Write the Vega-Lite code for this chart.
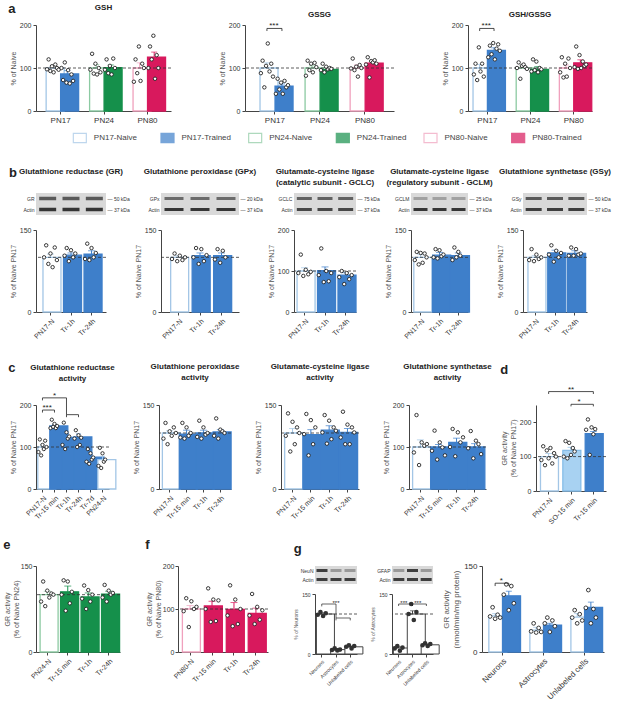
{
"$schema":"https://vega.github.io/schema/vega-lite/v6.json",
"background":"#ffffff",
"padding":{"left":3,"top":3,"right":0,"bottom":0},
"config":{
 "font":"Liberation Sans",
 "view":{"stroke":null},
 "axis":{"labelFontSize":7,"titleFontSize":7,"titleFontWeight":"normal","titleColor":"#555555","labelColor":"#333333","domainColor":"#444444","tickColor":"#444444","tickSize":3,"labelPadding":2,"titlePadding":3,"grid":false,"domain":true,"ticks":true},
 "title":{"fontSize":8,"fontWeight":"bold","color":"#222222"},
 "concat":{"spacing":20}
},
"datasets":{"d":[
{"p":"gsh","g":"PN17-Naive","grp":"PN17-Naive","m":100,"hi":106,"pts":[97,120,93,104,90,108,100,96]},
{"p":"gsh","g":"PN17-Trained","grp":"PN17-Trained","m":86,"hi":94,"pts":[100,72,113,66,95,64,85,70]},
{"p":"gsh","g":"PN24-Naive","grp":"PN24-Naive","m":100,"hi":108,"pts":[96,133,87,110,85,100,90]},
{"p":"gsh","g":"PN24-Trained","grp":"PN24-Trained","m":101,"hi":107,"pts":[96,120,88,105,85,122,100]},
{"p":"gsh","g":"PN80-Naive","grp":"PN80-Naive","m":100,"hi":112,"pts":[68,120,88,150,70,110,100]},
{"p":"gsh","g":"PN80-Trained","grp":"PN80-Trained","m":125,"hi":137,"pts":[100,150,120,175,75,130,100]},
{"p":"gssg","g":"PN17-Naive","grp":"PN17-Naive","m":100,"hi":112,"pts":[88,117,55,105,157,92,110,80]},
{"p":"gssg","g":"PN17-Trained","grp":"PN17-Trained","m":58,"hi":63,"pts":[40,75,50,66,40,70,55,60]},
{"p":"gssg","g":"PN24-Naive","grp":"PN24-Naive","m":100,"hi":105,"pts":[82,117,95,110,90,112,102]},
{"p":"gssg","g":"PN24-Trained","grp":"PN24-Trained","m":97,"hi":101,"pts":[95,110,90,103,97,100,98]},
{"p":"gssg","g":"PN80-Naive","grp":"PN80-Naive","m":100,"hi":107,"pts":[99,122,95,103,80,107,100]},
{"p":"gssg","g":"PN80-Trained","grp":"PN80-Trained","m":111,"hi":116,"pts":[108,125,78,116,113,118,110]},
{"p":"gssg","s":"***","sx":"PN17-Naive","sx2":"PN17-Trained","sy":192,"sy2":186,"sy3":186,"tb":"PN17-Naive"},
{"p":"ratio","g":"PN17-Naive","grp":"PN17-Naive","m":100,"hi":108,"pts":[85,110,72,148,92,110,80]},
{"p":"ratio","g":"PN17-Trained","grp":"PN17-Trained","m":141,"hi":147,"pts":[125,152,132,158,120,145,155,140]},
{"p":"ratio","g":"PN24-Naive","grp":"PN24-Naive","m":100,"hi":105,"pts":[100,113,75,105,108,102,98]},
{"p":"ratio","g":"PN24-Trained","grp":"PN24-Trained","m":97,"hi":103,"pts":[92,120,95,115,90,100,97]},
{"p":"ratio","g":"PN80-Naive","grp":"PN80-Naive","m":100,"hi":107,"pts":[90,125,78,110,80,122,100]},
{"p":"ratio","g":"PN80-Trained","grp":"PN80-Trained","m":112,"hi":119,"pts":[102,150,98,130,100,115,105,108]},
{"p":"ratio","s":"***","sx":"PN17-Naive","sx2":"PN17-Trained","sy":192,"sy2":186,"sy3":186,"tb":"PN17-Naive"},
{"p":"legA","grp":"PN17-Naive"},{"p":"legA","grp":"PN17-Trained"},{"p":"legA","grp":"PN24-Naive"},
{"p":"legA","grp":"PN24-Trained"},{"p":"legA","grp":"PN80-Naive"},{"p":"legA","grp":"PN80-Trained"},
{"p":"legG","grp":"PN17-Naive"},{"p":"legG","grp":"PN17-Trained"},
{"p":"bGR","prot":"GR","w":0.7,"ln":[1,2,3]},{"p":"bGR","prot":"Actin","w":0.9,"ln":[1,2,3]},
{"p":"bGPx","prot":"GPx","w":0.6,"ln":[1,2,3]},{"p":"bGPx","prot":"Actin","w":0.9,"ln":[1,2,3]},
{"p":"bGCLC","prot":"GCLC","w":0.65,"ln":[1,2,3]},{"p":"bGCLC","prot":"Actin","w":0.8,"ln":[1,2,3]},
{"p":"bGCLM","prot":"GCLM","w":0.3,"ln":[1,2,3]},{"p":"bGCLM","prot":"Actin","w":0.9,"ln":[1,2,3]},
{"p":"bGSy","prot":"GSy","w":0.7,"ln":[1,2,3]},{"p":"bGSy","prot":"Actin","w":0.85,"ln":[1,2,3]},
{"p":"bNeuN","prot":"NeuN","w":0.85,"ln":[1]},{"p":"bNeuN","prot":"NeuN","w":0.35,"ln":[2,3]},{"p":"bNeuN","prot":"Actin","w":0.85,"ln":[1,2,3]},
{"p":"bGFAP","prot":"GFAP","w":0.35,"ln":[1,3]},{"p":"bGFAP","prot":"GFAP","w":0.85,"ln":[2]},{"p":"bGFAP","prot":"Actin","w":0.85,"ln":[1,2,3]},
{"p":"GRb","g":"PN17-N","grp":"PN17-Naive","m":100,"hi":106,"pts":[100,122,88,107,82,118,95]},
{"p":"GRb","g":"Tr-1h","grp":"PN17-Trained","m":104,"hi":108,"pts":[103,117,93,113,100,107]},
{"p":"GRb","g":"Tr-24h","grp":"PN17-Trained","m":106,"hi":112,"pts":[97,125,95,117,100,108]},
{"p":"GPb","g":"PN17-N","grp":"PN17-Naive","m":100,"hi":103,"pts":[97,107,93,103,95,100]},
{"p":"GPb","g":"Tr-1h","grp":"PN17-Trained","m":103,"hi":108,"pts":[100,117,88,115,93,104]},
{"p":"GPb","g":"Tr-24h","grp":"PN17-Trained","m":103,"hi":108,"pts":[96,115,90,112,100]},
{"p":"GCLCb","g":"PN17-N","grp":"PN17-Naive","m":100,"hi":108,"pts":[95,140,88,103,92,98]},
{"p":"GCLCb","g":"Tr-1h","grp":"PN17-Trained","m":101,"hi":110,"pts":[90,155,73,100,75,95]},
{"p":"GCLCb","g":"Tr-24h","grp":"PN17-Trained","m":90,"hi":96,"pts":[85,100,68,95,80,90]},
{"p":"GCLMb","g":"PN17-N","grp":"PN17-Naive","m":100,"hi":105,"pts":[95,110,87,108,90,107,100]},
{"p":"GCLMb","g":"Tr-1h","grp":"PN17-Trained","m":104,"hi":109,"pts":[100,115,98,113,102,105]},
{"p":"GCLMb","g":"Tr-24h","grp":"PN17-Trained","m":103,"hi":108,"pts":[95,118,100,110,103]},
{"p":"GSyb","g":"PN17-N","grp":"PN17-Naive","m":100,"hi":103,"pts":[95,115,93,105,97,100]},
{"p":"GSyb","g":"Tr-1h","grp":"PN17-Trained","m":108,"hi":113,"pts":[105,122,92,112,100,108]},
{"p":"GSyb","g":"Tr-24h","grp":"PN17-Trained","m":107,"hi":112,"pts":[103,118,103,115,105,107]},
{"p":"GRa","g":"PN17-N","grp":"PN17-Naive","m":100,"hi":106,"pts":[88,118,80,105,95,115,100]},
{"p":"GRa","g":"Tr-15 min","grp":"PN17-Trained","m":150,"hi":154,"pts":[145,165,148,155,145,150]},
{"p":"GRa","g":"Tr-1h","grp":"PN17-Trained","m":123,"hi":132,"pts":[105,158,95,135,120,125]},
{"p":"GRa","g":"Tr-24h","grp":"PN17-Trained","m":124,"hi":131,"pts":[120,140,100,128,105,122]},
{"p":"GRa","g":"Tr-7d","grp":"PN17-Trained","m":76,"hi":82,"pts":[65,95,60,85,70,75]},
{"p":"GRa","g":"PN24-N","grp":"PN17-Naive","m":70,"hi":78,"pts":[55,98,50,85,65,70]},
{"p":"GRa","s":"***","sx":"PN17-N","sx2":"Tr-15 min","sy":188,"sy2":182,"sy3":182,"tb":"PN17-N"},
{"p":"GRa","s":"*","sx":"PN17-N","sx2":"Tr-1h","sy":217,"sy2":211,"sy3":177,"tc":"Tr-15 min"},
{"p":"GRa","s":"","sx":"Tr-1h","sx2":"Tr-24h","sy":177,"sy2":171,"sy3":171},
{"p":"GPa","g":"PN17-N","grp":"PN17-Naive","m":100,"hi":104,"pts":[90,118,80,103,95,110,100]},
{"p":"GPa","g":"Tr-15 min","grp":"PN17-Trained","m":98,"hi":105,"pts":[92,118,90,110,95,100]},
{"p":"GPa","g":"Tr-1h","grp":"PN17-Trained","m":100,"hi":105,"pts":[93,122,90,110,97,100]},
{"p":"GPa","g":"Tr-24h","grp":"PN17-Trained","m":102,"hi":106,"pts":[95,126,90,106,103,100]},
{"p":"GCa","g":"PN17-N","grp":"PN17-Naive","m":100,"hi":108,"pts":[95,135,67,120,80,110,100]},
{"p":"GCa","g":"Tr-15 min","grp":"PN17-Trained","m":97,"hi":106,"pts":[98,134,60,123,80,110]},
{"p":"GCa","g":"Tr-1h","grp":"PN17-Trained","m":105,"hi":113,"pts":[101,132,81,122,89,110,104]},
{"p":"GCa","g":"Tr-24h","grp":"PN17-Trained","m":101,"hi":108,"pts":[92,138,80,115,80,110,101]},
{"p":"GSa","g":"PN17-N","grp":"PN17-Naive","m":100,"hi":117,"pts":[87,176,57,111,103,107]},
{"p":"GSa","g":"Tr-15 min","grp":"PN17-Trained","m":100,"hi":106,"pts":[91,139,70,111,99,80]},
{"p":"GSa","g":"Tr-1h","grp":"PN17-Trained","m":111,"hi":121,"pts":[100,143,78,135,111,123]},
{"p":"GSa","g":"Tr-24h","grp":"PN17-Trained","m":100,"hi":108,"pts":[97,138,73,115,107,83]},
{"p":"GRd","g":"PN17-N","grp":"PN17-Naive","m":100,"hi":109,"pts":[90,130,75,118,95,125,80,110,100]},
{"p":"GRd","g":"SO-15 min","grp":"PN17-SO","m":118,"hi":127,"pts":[100,145,95,140,105,125,115]},
{"p":"GRd","g":"Tr-15 min","grp":"PN17-Trained","m":167,"hi":173,"pts":[178,208,105,185,165,180]},
{"p":"GRd","s":"**","sx":"PN17-N","sx2":"Tr-15 min","sy":289,"sy2":282,"sy3":282,"tc":"SO-15 min"},
{"p":"GRd","s":"*","sx":"SO-15 min","sx2":"Tr-15 min","sy":252,"sy2":246,"sy3":246,"tb":"SO-15 min"},
{"p":"GRe","g":"PN24-N","grp":"PN24-Naive","m":100,"hi":106,"pts":[88,123,80,107,95,102,100]},
{"p":"GRe","g":"Tr-15 min","grp":"PN24-Trained","m":105,"hi":115,"pts":[100,125,72,123,85,105]},
{"p":"GRe","g":"Tr-1h","grp":"PN24-Trained","m":96,"hi":103,"pts":[93,116,75,108,88,100]},
{"p":"GRe","g":"Tr-24h","grp":"PN24-Trained","m":101,"hi":106,"pts":[95,117,88,107,100,103]},
{"p":"GRf","g":"PN80-N","grp":"PN80-Naive","m":100,"hi":108,"pts":[95,125,58,118,100,105]},
{"p":"GRf","g":"Tr-15 min","grp":"PN80-Trained","m":107,"hi":118,"pts":[100,148,70,122,72,120]},
{"p":"GRf","g":"Tr-1h","grp":"PN80-Trained","m":99,"hi":115,"pts":[85,155,60,122,65,100]},
{"p":"GRf","g":"Tr-24h","grp":"PN80-Trained","m":90,"hi":102,"pts":[85,135,65,105,75,97]},
{"p":"gNe","g":"Neurons","grp":"Cell","m":100,"hi":103,"pts":[98,105,95,102]},
{"p":"gNe","g":"Astrocytes","grp":"Cell","m":11,"hi":13,"pts":[10,14,9,11]},
{"p":"gNe","g":"Unlabeled cells","grp":"Cell","m":18,"hi":20,"pts":[18,22,14,20]},
{"p":"gNe","s":"***","sx":"Neurons","sx2":"Astrocytes","sy":125,"sy2":119,"sy3":90,"tc":"Astrocytes"},
{"p":"gNe","s":"","sx":"Astrocytes","sx2":"Unlabeled cells","sy":90,"sy2":84,"sy3":84},
{"p":"gAs","g":"Neurons","grp":"Cell","m":15,"hi":18,"pts":[14,20,8,16]},
{"p":"gAs","g":"Astrocytes","grp":"Cell","m":100,"hi":108,"pts":[100,125,85,105]},
{"p":"gAs","g":"Unlabeled cells","grp":"Cell","m":23,"hi":25,"pts":[22,27,20,25]},
{"p":"gAs","s":"***","sx":"Neurons","sx2":"Astrocytes","sy":125,"sy2":120,"sy3":120,"tb":"Neurons"},
{"p":"gAs","s":"***","sx":"Astrocytes","sx2":"Unlabeled cells","sy":125,"sy2":120,"sy3":120,"tb":"Astrocytes"},
{"p":"gBig","g":"Neurons|N","grp":"PN17-Naive","m":63,"hi":67,"pts":[62,78,58,65,60]},
{"p":"gBig","g":"Neurons|T","grp":"PN17-Trained","m":98,"hi":106,"pts":[100,118,73,115,85]},
{"p":"gBig","g":"Astrocytes|N","grp":"PN17-Naive","m":38,"hi":43,"pts":[36,50,34,42,35]},
{"p":"gBig","g":"Astrocytes|T","grp":"PN17-Trained","m":47,"hi":50,"pts":[50,60,35,55,45]},
{"p":"gBig","g":"Unlabeled cells|N","grp":"PN17-Naive","m":61,"hi":67,"pts":[60,73,50,66,55]},
{"p":"gBig","g":"Unlabeled cells|T","grp":"PN17-Trained","m":78,"hi":87,"pts":[77,108,50,75,60]},
{"p":"gBig","s":"*","sx":"Neurons|N","sx2":"Neurons|T","sy":120,"sy2":115,"sy3":115,"tb":"Neurons|N"}
]},
"resolve":{"scale":{"xOffset":"independent"}},
"spacing":22,
"vconcat":[
{"spacing":7,"resolve":{"scale":{"xOffset":"independent"}},"vconcat":[
 {"title":{"text":"a","anchor":"start","fontSize":13,"dx":-1,"dy":12,"offset":0},
  "bounds":"flush","spacing":74,"resolve":{"scale":{"xOffset":"independent"}},
  "hconcat":[
  {"title":{"text":"GSH","offset":9},"width":135,"height":86,"data":{"name":"d"},"transform":[{"filter":{"field":"p","equal":"gsh"}}],
   "layer":[
    {"transform":[{"filter":"isValid(datum.m)"}],"mark":{"type":"bar","strokeWidth":1.3},"encoding":{
      "x":{"field":"g","type":"nominal","title":null,"scale":{"domain":["PN17-Naive","PN17-Trained","s1","PN24-Naive","PN24-Trained","s2","PN80-Naive","PN80-Trained"],"paddingInner":0.08,"paddingOuter":0.7},"axis":{"title":null,"labelAngle":0,"labelFontSize":8,"labelOverlap":false,"labelExpr":"indexof(datum.value,'Naive')>0 ? slice(datum.value,0,4) : ''","tickOffset":7.3,"tickOpacity":{"condition":{"test":"indexof(datum.value,'Naive')>0","value":1},"value":0}}},
      "y":{"field":"m","type":"quantitative","scale":{"domain":[0,200],"nice":false},"axis":{"title":"% of Naive","values":[0,50,100,150,200]}},
      "fill":{"field":"grp","legend":null,"scale":{"domain":["PN17-Naive","PN17-Trained","PN24-Naive","PN24-Trained","PN80-Naive","PN80-Trained","PN17-SO","Cell"],"range":["#ffffff","#3e7fca","#ffffff","#15904b","#ffffff","#d8195d","#a8d2f2","#ffffff"]}},
      "stroke":{"field":"grp","legend":null,"scale":{"domain":["PN17-Naive","PN17-Trained","PN24-Naive","PN24-Trained","PN80-Naive","PN80-Trained","PN17-SO","Cell"],"range":["#a3c6e6","#3e7fca","#8ccaa2","#15904b","#f0a1bd","#d8195d","#86bde8","#444444"]}}}},
    {"transform":[{"filter":"isValid(datum.m)"}],"mark":{"type":"rule","strokeWidth":1},"encoding":{"x":{"field":"g","type":"nominal","title":null},"y":{"field":"m","type":"quantitative"},"y2":{"field":"hi"},"stroke":{"field":"grp","legend":null}}},
    {"transform":[{"filter":"isValid(datum.m)"}],"mark":{"type":"tick","thickness":1,"size":6},"encoding":{"x":{"field":"g","type":"nominal","title":null},"y":{"field":"hi","type":"quantitative"},"color":{"field":"grp","legend":null,"scale":{"domain":["PN17-Naive","PN17-Trained","PN24-Naive","PN24-Trained","PN80-Naive","PN80-Trained","PN17-SO","Cell"],"range":["#a3c6e6","#3e7fca","#8ccaa2","#15904b","#f0a1bd","#d8195d","#86bde8","#444444"]}}}},
    {"data":{"values":[{}]},"mark":{"type":"rule","stroke":"#333333","strokeWidth":0.8,"strokeDash":[3,2]},"encoding":{"y":{"datum":100}}},
    {"transform":[{"filter":"isValid(datum.pts)"},{"flatten":["pts"],"as":["v"]},{"window":[{"op":"row_number","as":"r"}],"groupby":["g"]}],"mark":{"type":"point","filled":true,"fill":"#ffffff","stroke":"#222222","strokeWidth":0.9,"size":12,"opacity":1},"encoding":{"x":{"field":"g","type":"nominal","title":null},"xOffset":{"field":"r","type":"ordinal","scale":{"paddingOuter":0.5}},"y":{"field":"v","type":"quantitative"}}}
   ]},
  {"title":{"text":"GSSG","offset":2},"width":149,"height":86,"data":{"name":"d"},"transform":[{"filter":{"field":"p","equal":"gssg"}}],
   "layer":[
    {"transform":[{"filter":"isValid(datum.m)"}],"mark":{"type":"bar","strokeWidth":1.3},"encoding":{
      "x":{"field":"g","type":"nominal","title":null,"scale":{"domain":["PN17-Naive","PN17-Trained","s1","PN24-Naive","PN24-Trained","s2","PN80-Naive","PN80-Trained"],"paddingInner":0.08,"paddingOuter":1.1},"axis":{"title":null,"labelAngle":0,"labelFontSize":8,"labelOverlap":false,"labelExpr":"indexof(datum.value,'Naive')>0 ? slice(datum.value,0,4) : ''","tickOffset":7.4,"tickOpacity":{"condition":{"test":"indexof(datum.value,'Naive')>0","value":1},"value":0}}},
      "y":{"field":"m","type":"quantitative","scale":{"domain":[0,200],"nice":false},"axis":{"title":"% of Naive","values":[0,50,100,150,200]}},
      "fill":{"field":"grp","legend":null},"stroke":{"field":"grp","legend":null}}},
    {"transform":[{"filter":"isValid(datum.m)"}],"mark":{"type":"rule","strokeWidth":1},"encoding":{"x":{"field":"g","type":"nominal","title":null},"y":{"field":"m","type":"quantitative"},"y2":{"field":"hi"},"stroke":{"field":"grp","legend":null}}},
    {"transform":[{"filter":"isValid(datum.m)"}],"mark":{"type":"tick","thickness":1,"size":6},"encoding":{"x":{"field":"g","type":"nominal","title":null},"y":{"field":"hi","type":"quantitative"},"color":{"field":"grp","legend":null}}},
    {"data":{"values":[{}]},"mark":{"type":"rule","stroke":"#333333","strokeWidth":0.8,"strokeDash":[3,2]},"encoding":{"y":{"datum":100}}},
    {"transform":[{"filter":"isValid(datum.pts)"},{"flatten":["pts"],"as":["v"]},{"window":[{"op":"row_number","as":"r"}],"groupby":["g"]}],"mark":{"type":"point","filled":true,"fill":"#ffffff","stroke":"#222222","strokeWidth":0.9,"size":12,"opacity":1},"encoding":{"x":{"field":"g","type":"nominal","title":null},"xOffset":{"field":"r","type":"ordinal","scale":{"paddingOuter":0.5}},"y":{"field":"v","type":"quantitative"}}},
    {"transform":[{"filter":"isValid(datum.s)"}],"mark":{"type":"rule","stroke":"#222222","strokeWidth":0.8},"encoding":{"x":{"field":"sx","type":"nominal","title":null},"x2":{"field":"sx2"},"y":{"field":"sy","type":"quantitative"}}},
    {"transform":[{"filter":"isValid(datum.s)"}],"mark":{"type":"rule","stroke":"#222222","strokeWidth":0.8},"encoding":{"x":{"field":"sx","type":"nominal","title":null},"y":{"field":"sy","type":"quantitative"},"y2":{"field":"sy2"}}},
    {"transform":[{"filter":"isValid(datum.s)"}],"mark":{"type":"rule","stroke":"#222222","strokeWidth":0.8},"encoding":{"x":{"field":"sx2","type":"nominal","title":null},"y":{"field":"sy","type":"quantitative"},"y2":{"field":"sy3"}}},
    {"transform":[{"filter":"isValid(datum.tb)"}],"mark":{"type":"text","fontSize":8,"baseline":"bottom","dy":2,"color":"#222222"},"encoding":{"x":{"field":"tb","type":"nominal","title":null,"bandPosition":1},"y":{"field":"sy","type":"quantitative"},"text":{"field":"s"}}}
   ]},
  {"title":{"text":"GSH/GSSG","offset":2},"width":124,"height":86,"data":{"name":"d"},"transform":[{"filter":{"field":"p","equal":"ratio"}}],
   "layer":[
    {"transform":[{"filter":"isValid(datum.m)"}],"mark":{"type":"bar","strokeWidth":1.3},"encoding":{
      "x":{"field":"g","type":"nominal","title":null,"scale":{"domain":["PN17-Naive","PN17-Trained","s1","PN24-Naive","PN24-Trained","s2","PN80-Naive","PN80-Trained"],"paddingInner":0.08,"paddingOuter":0.35},"axis":{"title":null,"labelAngle":0,"labelFontSize":8,"labelOverlap":false,"labelExpr":"indexof(datum.value,'Naive')>0 ? slice(datum.value,0,4) : ''","tickOffset":7.2,"tickOpacity":{"condition":{"test":"indexof(datum.value,'Naive')>0","value":1},"value":0}}},
      "y":{"field":"m","type":"quantitative","scale":{"domain":[0,200],"nice":false},"axis":{"title":"% of Naive","values":[0,50,100,150,200]}},
      "fill":{"field":"grp","legend":null},"stroke":{"field":"grp","legend":null}}},
    {"transform":[{"filter":"isValid(datum.m)"}],"mark":{"type":"rule","strokeWidth":1},"encoding":{"x":{"field":"g","type":"nominal","title":null},"y":{"field":"m","type":"quantitative"},"y2":{"field":"hi"},"stroke":{"field":"grp","legend":null}}},
    {"transform":[{"filter":"isValid(datum.m)"}],"mark":{"type":"tick","thickness":1,"size":6},"encoding":{"x":{"field":"g","type":"nominal","title":null},"y":{"field":"hi","type":"quantitative"},"color":{"field":"grp","legend":null}}},
    {"data":{"values":[{}]},"mark":{"type":"rule","stroke":"#333333","strokeWidth":0.8,"strokeDash":[3,2]},"encoding":{"y":{"datum":100}}},
    {"transform":[{"filter":"isValid(datum.pts)"},{"flatten":["pts"],"as":["v"]},{"window":[{"op":"row_number","as":"r"}],"groupby":["g"]}],"mark":{"type":"point","filled":true,"fill":"#ffffff","stroke":"#222222","strokeWidth":0.9,"size":12,"opacity":1},"encoding":{"x":{"field":"g","type":"nominal","title":null},"xOffset":{"field":"r","type":"ordinal","scale":{"paddingOuter":0.5}},"y":{"field":"v","type":"quantitative"}}},
    {"transform":[{"filter":"isValid(datum.s)"}],"mark":{"type":"rule","stroke":"#222222","strokeWidth":0.8},"encoding":{"x":{"field":"sx","type":"nominal","title":null},"x2":{"field":"sx2"},"y":{"field":"sy","type":"quantitative"}}},
    {"transform":[{"filter":"isValid(datum.s)"}],"mark":{"type":"rule","stroke":"#222222","strokeWidth":0.8},"encoding":{"x":{"field":"sx","type":"nominal","title":null},"y":{"field":"sy","type":"quantitative"},"y2":{"field":"sy2"}}},
    {"transform":[{"filter":"isValid(datum.s)"}],"mark":{"type":"rule","stroke":"#222222","strokeWidth":0.8},"encoding":{"x":{"field":"sx2","type":"nominal","title":null},"y":{"field":"sy","type":"quantitative"},"y2":{"field":"sy3"}}},
    {"transform":[{"filter":"isValid(datum.tb)"}],"mark":{"type":"text","fontSize":8,"baseline":"bottom","dy":2,"color":"#222222"},"encoding":{"x":{"field":"tb","type":"nominal","title":null,"bandPosition":1},"y":{"field":"sy","type":"quantitative"},"text":{"field":"s"}}}
   ]}
  ]},
 {"width":580,"height":12,"data":{"name":"d"},"transform":[{"filter":{"field":"p","equal":"legA"}}],
  "layer":[
   {"mark":{"type":"point","shape":"M-1,-0.7H1V0.7H-1Z","filled":true,"size":169,"strokeWidth":1.2},"encoding":{"x":{"field":"grp","type":"nominal","sort":null,"axis":null,"scale":{"range":[0,526],"paddingInner":0,"paddingOuter":0}},"fill":{"field":"grp","legend":null},"stroke":{"field":"grp","legend":null}}},
   {"mark":{"type":"text","align":"left","dx":14,"fontSize":8,"color":"#444444"},"encoding":{"x":{"field":"grp","type":"nominal","sort":null,"axis":null},"text":{"field":"grp"}}}
  ]}
]},
{"spacing":11,"resolve":{"scale":{"xOffset":"independent"}},"vconcat":[
 {"title":{"text":"b","anchor":"start","fontSize":13,"dx":-10,"dy":12,"offset":0},"bounds":"flush","spacing":55,
  "hconcat":[
   {"title":{"text":"Glutathione reductase (GR)","offset":17},"width":70,"height":22,"view":{"fill":"#d9d9d9","stroke":null},"data":{"name":"d"},"transform":[{"filter":{"field":"p","equal":"bGR"}},{"flatten":["ln"]}],
    "layer":[
     {"mark":{"type":"tick","orient":"horizontal","thickness":3.5,"size":17,"color":"#222222"},"encoding":{"x":{"field":"ln","type":"ordinal","axis":null},"y":{"field":"prot","type":"nominal","sort":null,"axis":{"title":null,"domain":false,"ticks":false,"labelFontSize":5,"labelPadding":2}},"opacity":{"field":"w","type":"quantitative","legend":null,"scale":{"domain":[0,1],"range":[0,1]}}}},
     {"mark":{"type":"tick","opacity":0},"encoding":{"y":{"field":"prot","type":"nominal","sort":null,"axis":{"orient":"right","title":null,"domain":false,"ticks":false,"labelFontSize":5,"labelPadding":1,"labelExpr":"datum.value=='Actin' ? '— 37 kDa' : '— 50 kDa'"}}}}
    ],"resolve":{"axis":{"y":"independent"}}},
   {"title":{"text":"Glutathione peroxidase (GPx)","offset":17},"width":78,"height":22,"view":{"fill":"#d9d9d9","stroke":null},"data":{"name":"d"},"transform":[{"filter":{"field":"p","equal":"bGPx"}},{"flatten":["ln"]}],
    "layer":[
     {"mark":{"type":"tick","orient":"horizontal","thickness":3,"size":19,"color":"#222222"},"encoding":{"x":{"field":"ln","type":"ordinal","axis":null},"y":{"field":"prot","type":"nominal","sort":null,"axis":{"title":null,"domain":false,"ticks":false,"labelFontSize":5,"labelPadding":2}},"opacity":{"field":"w","type":"quantitative","legend":null}}},
     {"mark":{"type":"tick","opacity":0},"encoding":{"y":{"field":"prot","type":"nominal","sort":null,"axis":{"orient":"right","title":null,"domain":false,"ticks":false,"labelFontSize":5,"labelPadding":1,"labelExpr":"datum.value=='Actin' ? '— 37 kDa' : '— 20 kDa'"}}}}
    ],"resolve":{"axis":{"y":"independent"}}},
   {"title":{"text":["Glutamate-cysteine ligase","(catalytic subunit - GCLC)"],"offset":6,"lineHeight":11},"width":62,"height":22,"view":{"fill":"#d9d9d9","stroke":null},"data":{"name":"d"},"transform":[{"filter":{"field":"p","equal":"bGCLC"}},{"flatten":["ln"]}],
    "layer":[
     {"mark":{"type":"tick","orient":"horizontal","thickness":3,"size":15,"color":"#222222"},"encoding":{"x":{"field":"ln","type":"ordinal","axis":null},"y":{"field":"prot","type":"nominal","sort":null,"axis":{"title":null,"domain":false,"ticks":false,"labelFontSize":5,"labelPadding":2}},"opacity":{"field":"w","type":"quantitative","legend":null}}},
     {"mark":{"type":"tick","opacity":0},"encoding":{"y":{"field":"prot","type":"nominal","sort":null,"axis":{"orient":"right","title":null,"domain":false,"ticks":false,"labelFontSize":5,"labelPadding":1,"labelExpr":"datum.value=='Actin' ? '— 37 kDa' : '— 75 kDa'"}}}}
    ],"resolve":{"axis":{"y":"independent"}}},
   {"title":{"text":["Glutamate-cysteine ligase","(regulatory subunit - GCLM)"],"offset":6,"lineHeight":11},"width":57,"height":22,"view":{"fill":"#d9d9d9","stroke":null},"data":{"name":"d"},"transform":[{"filter":{"field":"p","equal":"bGCLM"}},{"flatten":["ln"]}],
    "layer":[
     {"mark":{"type":"tick","orient":"horizontal","thickness":3,"size":14,"color":"#222222"},"encoding":{"x":{"field":"ln","type":"ordinal","axis":null},"y":{"field":"prot","type":"nominal","sort":null,"axis":{"title":null,"domain":false,"ticks":false,"labelFontSize":5,"labelPadding":2}},"opacity":{"field":"w","type":"quantitative","legend":null}}},
     {"mark":{"type":"tick","opacity":0},"encoding":{"y":{"field":"prot","type":"nominal","sort":null,"axis":{"orient":"right","title":null,"domain":false,"ticks":false,"labelFontSize":5,"labelPadding":1,"labelExpr":"datum.value=='Actin' ? '— 37 kDa' : '— 25 kDa'"}}}}
    ],"resolve":{"axis":{"y":"independent"}}},
   {"title":{"text":"Glutathione synthetase (GSy)","offset":17},"width":64,"height":22,"view":{"fill":"#d9d9d9","stroke":null},"data":{"name":"d"},"transform":[{"filter":{"field":"p","equal":"bGSy"}},{"flatten":["ln"]}],
    "layer":[
     {"mark":{"type":"tick","orient":"horizontal","thickness":3,"size":16,"color":"#222222"},"encoding":{"x":{"field":"ln","type":"ordinal","axis":null},"y":{"field":"prot","type":"nominal","sort":null,"axis":{"title":null,"domain":false,"ticks":false,"labelFontSize":5,"labelPadding":2}},"opacity":{"field":"w","type":"quantitative","legend":null}}},
     {"mark":{"type":"tick","opacity":0},"encoding":{"y":{"field":"prot","type":"nominal","sort":null,"axis":{"orient":"right","title":null,"domain":false,"ticks":false,"labelFontSize":5,"labelPadding":1,"labelExpr":"datum.value=='Actin' ? '— 37 kDa' : '— 50 kDa'"}}}}
    ],"resolve":{"axis":{"y":"independent"}}}
  ]},
 {"bounds":"flush","spacing":55,"resolve":{"scale":{"xOffset":"independent"}},
  "hconcat":[
   {"width":70,"height":82,"data":{"name":"d"},"transform":[{"filter":{"field":"p","equal":"GRb"}}],
    "layer":[
     {"transform":[{"filter":"isValid(datum.m)"}],"mark":{"type":"bar","strokeWidth":1.3},"encoding":{"x":{"field":"g","type":"nominal","title":null,"scale":{"domain":["PN17-N","Tr-1h","Tr-24h"],"paddingInner":0.27,"paddingOuter":0.34},"axis":{"title":null,"labelAngle":-45}},"y":{"field":"m","type":"quantitative","scale":{"domain":[0,150],"nice":false},"axis":{"title":"% of Naive PN17","values":[0,50,100,150]}},"fill":{"field":"grp","legend":null},"stroke":{"field":"grp","legend":null}}},
     {"transform":[{"filter":"isValid(datum.m)"}],"mark":{"type":"rule","strokeWidth":1},"encoding":{"x":{"field":"g","type":"nominal","title":null},"y":{"field":"m","type":"quantitative"},"y2":{"field":"hi"},"stroke":{"field":"grp","legend":null}}},
     {"transform":[{"filter":"isValid(datum.m)"}],"mark":{"type":"tick","thickness":1,"size":7},"encoding":{"x":{"field":"g","type":"nominal","title":null},"y":{"field":"hi","type":"quantitative"},"color":{"field":"grp","legend":null}}},
     {"data":{"values":[{}]},"mark":{"type":"rule","stroke":"#333333","strokeWidth":0.8,"strokeDash":[3,2]},"encoding":{"y":{"datum":100}}},
     {"transform":[{"filter":"isValid(datum.pts)"},{"flatten":["pts"],"as":["v"]},{"window":[{"op":"row_number","as":"r"}],"groupby":["g"]}],"mark":{"type":"point","filled":true,"fill":"#ffffff","stroke":"#222222","strokeWidth":0.9,"size":12,"opacity":1},"encoding":{"x":{"field":"g","type":"nominal","title":null},"xOffset":{"field":"r","type":"ordinal","scale":{"paddingOuter":0.5}},"y":{"field":"v","type":"quantitative"}}}
    ]},
   {"width":78,"height":82,"data":{"name":"d"},"transform":[{"filter":{"field":"p","equal":"GPb"}}],
    "layer":[
     {"transform":[{"filter":"isValid(datum.m)"}],"mark":{"type":"bar","strokeWidth":1.3},"encoding":{"x":{"field":"g","type":"nominal","title":null,"scale":{"domain":["PN17-N","Tr-1h","Tr-24h"],"paddingInner":0.27,"paddingOuter":0.45},"axis":{"title":null,"labelAngle":-45}},"y":{"field":"m","type":"quantitative","scale":{"domain":[0,150],"nice":false},"axis":{"title":"% of Naive PN17","values":[0,50,100,150]}},"fill":{"field":"grp","legend":null},"stroke":{"field":"grp","legend":null}}},
     {"transform":[{"filter":"isValid(datum.m)"}],"mark":{"type":"rule","strokeWidth":1},"encoding":{"x":{"field":"g","type":"nominal","title":null},"y":{"field":"m","type":"quantitative"},"y2":{"field":"hi"},"stroke":{"field":"grp","legend":null}}},
     {"transform":[{"filter":"isValid(datum.m)"}],"mark":{"type":"tick","thickness":1,"size":7},"encoding":{"x":{"field":"g","type":"nominal","title":null},"y":{"field":"hi","type":"quantitative"},"color":{"field":"grp","legend":null}}},
     {"data":{"values":[{}]},"mark":{"type":"rule","stroke":"#333333","strokeWidth":0.8,"strokeDash":[3,2]},"encoding":{"y":{"datum":100}}},
     {"transform":[{"filter":"isValid(datum.pts)"},{"flatten":["pts"],"as":["v"]},{"window":[{"op":"row_number","as":"r"}],"groupby":["g"]}],"mark":{"type":"point","filled":true,"fill":"#ffffff","stroke":"#222222","strokeWidth":0.9,"size":12,"opacity":1},"encoding":{"x":{"field":"g","type":"nominal","title":null},"xOffset":{"field":"r","type":"ordinal","scale":{"paddingOuter":0.5}},"y":{"field":"v","type":"quantitative"}}}
    ]},
   {"width":62,"height":82,"data":{"name":"d"},"transform":[{"filter":{"field":"p","equal":"GCLCb"}}],
    "layer":[
     {"transform":[{"filter":"isValid(datum.m)"}],"mark":{"type":"bar","strokeWidth":1.3},"encoding":{"x":{"field":"g","type":"nominal","title":null,"scale":{"domain":["PN17-N","Tr-1h","Tr-24h"],"paddingInner":0.27,"paddingOuter":0.15},"axis":{"title":null,"labelAngle":-45}},"y":{"field":"m","type":"quantitative","scale":{"domain":[0,200],"nice":false},"axis":{"title":"% of Naive PN17","values":[0,50,100,150,200]}},"fill":{"field":"grp","legend":null},"stroke":{"field":"grp","legend":null}}},
     {"transform":[{"filter":"isValid(datum.m)"}],"mark":{"type":"rule","strokeWidth":1},"encoding":{"x":{"field":"g","type":"nominal","title":null},"y":{"field":"m","type":"quantitative"},"y2":{"field":"hi"},"stroke":{"field":"grp","legend":null}}},
     {"transform":[{"filter":"isValid(datum.m)"}],"mark":{"type":"tick","thickness":1,"size":7},"encoding":{"x":{"field":"g","type":"nominal","title":null},"y":{"field":"hi","type":"quantitative"},"color":{"field":"grp","legend":null}}},
     {"data":{"values":[{}]},"mark":{"type":"rule","stroke":"#333333","strokeWidth":0.8,"strokeDash":[3,2]},"encoding":{"y":{"datum":100}}},
     {"transform":[{"filter":"isValid(datum.pts)"},{"flatten":["pts"],"as":["v"]},{"window":[{"op":"row_number","as":"r"}],"groupby":["g"]}],"mark":{"type":"point","filled":true,"fill":"#ffffff","stroke":"#222222","strokeWidth":0.9,"size":12,"opacity":1},"encoding":{"x":{"field":"g","type":"nominal","title":null},"xOffset":{"field":"r","type":"ordinal","scale":{"paddingOuter":0.5}},"y":{"field":"v","type":"quantitative"}}}
    ]},
   {"width":57,"height":82,"data":{"name":"d"},"transform":[{"filter":{"field":"p","equal":"GCLMb"}}],
    "layer":[
     {"transform":[{"filter":"isValid(datum.m)"}],"mark":{"type":"bar","strokeWidth":1.3},"encoding":{"x":{"field":"g","type":"nominal","title":null,"scale":{"domain":["PN17-N","Tr-1h","Tr-24h"],"paddingInner":0.27,"paddingOuter":0.15},"axis":{"title":null,"labelAngle":-45}},"y":{"field":"m","type":"quantitative","scale":{"domain":[0,150],"nice":false},"axis":{"title":"% of Naive PN17","values":[0,50,100,150]}},"fill":{"field":"grp","legend":null},"stroke":{"field":"grp","legend":null}}},
     {"transform":[{"filter":"isValid(datum.m)"}],"mark":{"type":"rule","strokeWidth":1},"encoding":{"x":{"field":"g","type":"nominal","title":null},"y":{"field":"m","type":"quantitative"},"y2":{"field":"hi"},"stroke":{"field":"grp","legend":null}}},
     {"transform":[{"filter":"isValid(datum.m)"}],"mark":{"type":"tick","thickness":1,"size":7},"encoding":{"x":{"field":"g","type":"nominal","title":null},"y":{"field":"hi","type":"quantitative"},"color":{"field":"grp","legend":null}}},
     {"data":{"values":[{}]},"mark":{"type":"rule","stroke":"#333333","strokeWidth":0.8,"strokeDash":[3,2]},"encoding":{"y":{"datum":100}}},
     {"transform":[{"filter":"isValid(datum.pts)"},{"flatten":["pts"],"as":["v"]},{"window":[{"op":"row_number","as":"r"}],"groupby":["g"]}],"mark":{"type":"point","filled":true,"fill":"#ffffff","stroke":"#222222","strokeWidth":0.9,"size":12,"opacity":1},"encoding":{"x":{"field":"g","type":"nominal","title":null},"xOffset":{"field":"r","type":"ordinal","scale":{"paddingOuter":0.5}},"y":{"field":"v","type":"quantitative"}}}
    ]},
   {"width":64,"height":82,"data":{"name":"d"},"transform":[{"filter":{"field":"p","equal":"GSyb"}}],
    "layer":[
     {"transform":[{"filter":"isValid(datum.m)"}],"mark":{"type":"bar","strokeWidth":1.3},"encoding":{"x":{"field":"g","type":"nominal","title":null,"scale":{"domain":["PN17-N","Tr-1h","Tr-24h"],"paddingInner":0.27,"paddingOuter":0.25},"axis":{"title":null,"labelAngle":-45}},"y":{"field":"m","type":"quantitative","scale":{"domain":[0,150],"nice":false},"axis":{"title":"% of Naive PN17","values":[0,50,100,150]}},"fill":{"field":"grp","legend":null},"stroke":{"field":"grp","legend":null}}},
     {"transform":[{"filter":"isValid(datum.m)"}],"mark":{"type":"rule","strokeWidth":1},"encoding":{"x":{"field":"g","type":"nominal","title":null},"y":{"field":"m","type":"quantitative"},"y2":{"field":"hi"},"stroke":{"field":"grp","legend":null}}},
     {"transform":[{"filter":"isValid(datum.m)"}],"mark":{"type":"tick","thickness":1,"size":7},"encoding":{"x":{"field":"g","type":"nominal","title":null},"y":{"field":"hi","type":"quantitative"},"color":{"field":"grp","legend":null}}},
     {"data":{"values":[{}]},"mark":{"type":"rule","stroke":"#333333","strokeWidth":0.8,"strokeDash":[3,2]},"encoding":{"y":{"datum":100}}},
     {"transform":[{"filter":"isValid(datum.pts)"},{"flatten":["pts"],"as":["v"]},{"window":[{"op":"row_number","as":"r"}],"groupby":["g"]}],"mark":{"type":"point","filled":true,"fill":"#ffffff","stroke":"#222222","strokeWidth":0.9,"size":12,"opacity":1},"encoding":{"x":{"field":"g","type":"nominal","title":null},"xOffset":{"field":"r","type":"ordinal","scale":{"paddingOuter":0.5}},"y":{"field":"v","type":"quantitative"}}}
    ]}
  ]}
]},
{"spacing":14,"resolve":{"scale":{"xOffset":"independent"}},"vconcat":[
{"title":{"text":"c","anchor":"start","fontSize":13,"dx":-1,"dy":12,"offset":0},"bounds":"flush","spacing":50,"resolve":{"scale":{"xOffset":"independent"}},
 "hconcat":[
  {"title":{"text":["Glutathione reductase","activity"],"offset":9,"lineHeight":11},"width":73,"height":84,"data":{"name":"d"},"transform":[{"filter":{"field":"p","equal":"GRa"}}],
   "layer":[
    {"transform":[{"filter":"isValid(datum.m)"}],"mark":{"type":"bar","strokeWidth":1.3},"encoding":{"x":{"field":"g","type":"nominal","title":null,"scale":{"domain":["PN17-N","Tr-15 min","Tr-1h","Tr-24h","Tr-7d","PN24-N"],"paddingInner":0.22,"paddingOuter":0.15},"axis":{"title":null,"labelAngle":-45}},"y":{"field":"m","type":"quantitative","scale":{"domain":[0,200],"nice":false},"axis":{"title":"% of Naive PN17","values":[0,50,100,150,200]}},"fill":{"field":"grp","legend":null},"stroke":{"field":"grp","legend":null}}},
    {"transform":[{"filter":"isValid(datum.m)"}],"mark":{"type":"rule","strokeWidth":1},"encoding":{"x":{"field":"g","type":"nominal","title":null},"y":{"field":"m","type":"quantitative"},"y2":{"field":"hi"},"stroke":{"field":"grp","legend":null}}},
    {"transform":[{"filter":"isValid(datum.m)"}],"mark":{"type":"tick","thickness":1,"size":5},"encoding":{"x":{"field":"g","type":"nominal","title":null},"y":{"field":"hi","type":"quantitative"},"color":{"field":"grp","legend":null}}},
    {"data":{"values":[{}]},"mark":{"type":"rule","stroke":"#333333","strokeWidth":0.8,"strokeDash":[3,2]},"encoding":{"y":{"datum":100}}},
    {"transform":[{"filter":"isValid(datum.pts)"},{"flatten":["pts"],"as":["v"]},{"window":[{"op":"row_number","as":"r"}],"groupby":["g"]}],"mark":{"type":"point","filled":true,"fill":"#ffffff","stroke":"#222222","strokeWidth":0.9,"size":11,"opacity":1},"encoding":{"x":{"field":"g","type":"nominal","title":null},"xOffset":{"field":"r","type":"ordinal","scale":{"paddingOuter":0.5}},"y":{"field":"v","type":"quantitative"}}},
    {"transform":[{"filter":"isValid(datum.s)"}],"mark":{"type":"rule","stroke":"#222222","strokeWidth":0.8},"encoding":{"x":{"field":"sx","type":"nominal","title":null},"x2":{"field":"sx2"},"y":{"field":"sy","type":"quantitative"}}},
    {"transform":[{"filter":"isValid(datum.s)"}],"mark":{"type":"rule","stroke":"#222222","strokeWidth":0.8},"encoding":{"x":{"field":"sx","type":"nominal","title":null},"y":{"field":"sy","type":"quantitative"},"y2":{"field":"sy2"}}},
    {"transform":[{"filter":"isValid(datum.s)"}],"mark":{"type":"rule","stroke":"#222222","strokeWidth":0.8},"encoding":{"x":{"field":"sx2","type":"nominal","title":null},"y":{"field":"sy","type":"quantitative"},"y2":{"field":"sy3"}}},
    {"transform":[{"filter":"isValid(datum.tb)"}],"mark":{"type":"text","fontSize":8,"baseline":"bottom","dy":2,"color":"#222222"},"encoding":{"x":{"field":"tb","type":"nominal","title":null,"bandPosition":1},"y":{"field":"sy","type":"quantitative"},"text":{"field":"s"}}},
    {"transform":[{"filter":"isValid(datum.tc)"}],"mark":{"type":"text","fontSize":8,"baseline":"bottom","dy":2,"color":"#222222"},"encoding":{"x":{"field":"tc","type":"nominal","title":null},"y":{"field":"sy","type":"quantitative"},"text":{"field":"s"}}}
   ]},
  {"title":{"text":["Glutathione peroxidase","activity"],"offset":19,"lineHeight":11},"width":72,"height":84,"data":{"name":"d"},"transform":[{"filter":{"field":"p","equal":"GPa"}}],
   "layer":[
    {"transform":[{"filter":"isValid(datum.m)"}],"mark":{"type":"bar","strokeWidth":1.3},"encoding":{"x":{"field":"g","type":"nominal","title":null,"scale":{"domain":["PN17-N","Tr-15 min","Tr-1h","Tr-24h"],"paddingInner":0.14,"paddingOuter":0.2},"axis":{"title":null,"labelAngle":-45}},"y":{"field":"m","type":"quantitative","scale":{"domain":[0,150],"nice":false},"axis":{"title":"% of Naive PN17","values":[0,50,100,150]}},"fill":{"field":"grp","legend":null},"stroke":{"field":"grp","legend":null}}},
    {"transform":[{"filter":"isValid(datum.m)"}],"mark":{"type":"rule","strokeWidth":1},"encoding":{"x":{"field":"g","type":"nominal","title":null},"y":{"field":"m","type":"quantitative"},"y2":{"field":"hi"},"stroke":{"field":"grp","legend":null}}},
    {"transform":[{"filter":"isValid(datum.m)"}],"mark":{"type":"tick","thickness":1,"size":7},"encoding":{"x":{"field":"g","type":"nominal","title":null},"y":{"field":"hi","type":"quantitative"},"color":{"field":"grp","legend":null}}},
    {"data":{"values":[{}]},"mark":{"type":"rule","stroke":"#333333","strokeWidth":0.8,"strokeDash":[3,2]},"encoding":{"y":{"datum":100}}},
    {"transform":[{"filter":"isValid(datum.pts)"},{"flatten":["pts"],"as":["v"]},{"window":[{"op":"row_number","as":"r"}],"groupby":["g"]}],"mark":{"type":"point","filled":true,"fill":"#ffffff","stroke":"#222222","strokeWidth":0.9,"size":12,"opacity":1},"encoding":{"x":{"field":"g","type":"nominal","title":null},"xOffset":{"field":"r","type":"ordinal","scale":{"paddingOuter":0.5}},"y":{"field":"v","type":"quantitative"}}}
   ]},
  {"title":{"text":["Glutamate-cysteine ligase","activity"],"offset":19,"lineHeight":11},"width":78,"height":84,"data":{"name":"d"},"transform":[{"filter":{"field":"p","equal":"GCa"}}],
   "layer":[
    {"transform":[{"filter":"isValid(datum.m)"}],"mark":{"type":"bar","strokeWidth":1.3},"encoding":{"x":{"field":"g","type":"nominal","title":null,"scale":{"domain":["PN17-N","Tr-15 min","Tr-1h","Tr-24h"],"paddingInner":0.14,"paddingOuter":0.2},"axis":{"title":null,"labelAngle":-45}},"y":{"field":"m","type":"quantitative","scale":{"domain":[0,150],"nice":false},"axis":{"title":"% of Naive PN17","values":[0,50,100,150]}},"fill":{"field":"grp","legend":null},"stroke":{"field":"grp","legend":null}}},
    {"transform":[{"filter":"isValid(datum.m)"}],"mark":{"type":"rule","strokeWidth":1},"encoding":{"x":{"field":"g","type":"nominal","title":null},"y":{"field":"m","type":"quantitative"},"y2":{"field":"hi"},"stroke":{"field":"grp","legend":null}}},
    {"transform":[{"filter":"isValid(datum.m)"}],"mark":{"type":"tick","thickness":1,"size":7},"encoding":{"x":{"field":"g","type":"nominal","title":null},"y":{"field":"hi","type":"quantitative"},"color":{"field":"grp","legend":null}}},
    {"data":{"values":[{}]},"mark":{"type":"rule","stroke":"#333333","strokeWidth":0.8,"strokeDash":[3,2]},"encoding":{"y":{"datum":100}}},
    {"transform":[{"filter":"isValid(datum.pts)"},{"flatten":["pts"],"as":["v"]},{"window":[{"op":"row_number","as":"r"}],"groupby":["g"]}],"mark":{"type":"point","filled":true,"fill":"#ffffff","stroke":"#222222","strokeWidth":0.9,"size":12,"opacity":1},"encoding":{"x":{"field":"g","type":"nominal","title":null},"xOffset":{"field":"r","type":"ordinal","scale":{"paddingOuter":0.5}},"y":{"field":"v","type":"quantitative"}}}
   ]},
  {"title":{"text":["Glutathione synthetase","activity"],"offset":19,"lineHeight":11},"width":77,"height":84,"data":{"name":"d"},"transform":[{"filter":{"field":"p","equal":"GSa"}}],
   "layer":[
    {"transform":[{"filter":"isValid(datum.m)"}],"mark":{"type":"bar","strokeWidth":1.3},"encoding":{"x":{"field":"g","type":"nominal","title":null,"scale":{"domain":["PN17-N","Tr-15 min","Tr-1h","Tr-24h"],"paddingInner":0.14,"paddingOuter":0.2},"axis":{"title":null,"labelAngle":-45}},"y":{"field":"m","type":"quantitative","scale":{"domain":[0,200],"nice":false},"axis":{"title":"% of Naive PN17","values":[0,50,100,150,200]}},"fill":{"field":"grp","legend":null},"stroke":{"field":"grp","legend":null}}},
    {"transform":[{"filter":"isValid(datum.m)"}],"mark":{"type":"rule","strokeWidth":1},"encoding":{"x":{"field":"g","type":"nominal","title":null},"y":{"field":"m","type":"quantitative"},"y2":{"field":"hi"},"stroke":{"field":"grp","legend":null}}},
    {"transform":[{"filter":"isValid(datum.m)"}],"mark":{"type":"tick","thickness":1,"size":7},"encoding":{"x":{"field":"g","type":"nominal","title":null},"y":{"field":"hi","type":"quantitative"},"color":{"field":"grp","legend":null}}},
    {"data":{"values":[{}]},"mark":{"type":"rule","stroke":"#333333","strokeWidth":0.8,"strokeDash":[3,2]},"encoding":{"y":{"datum":100}}},
    {"transform":[{"filter":"isValid(datum.pts)"},{"flatten":["pts"],"as":["v"]},{"window":[{"op":"row_number","as":"r"}],"groupby":["g"]}],"mark":{"type":"point","filled":true,"fill":"#ffffff","stroke":"#222222","strokeWidth":0.9,"size":12,"opacity":1},"encoding":{"x":{"field":"g","type":"nominal","title":null},"xOffset":{"field":"r","type":"ordinal","scale":{"paddingOuter":0.5}},"y":{"field":"v","type":"quantitative"}}}
   ]},
  {"title":{"text":"d","anchor":"start","fontSize":13,"offset":9},"width":70,"height":86,"data":{"name":"d"},"transform":[{"filter":{"field":"p","equal":"GRd"}}],
   "layer":[
    {"transform":[{"filter":"isValid(datum.m)"}],"mark":{"type":"bar","strokeWidth":1.3},"encoding":{"x":{"field":"g","type":"nominal","title":null,"scale":{"domain":["PN17-N","SO-15 min","Tr-15 min"],"paddingInner":0.27,"paddingOuter":0.2},"axis":{"title":null,"labelAngle":-45}},"y":{"field":"m","type":"quantitative","scale":{"domain":[0,250],"nice":false},"axis":{"title":["GR activity","(% of Naive PN17)"],"values":[0,50,100,150,200,250]}},"fill":{"field":"grp","legend":null},"stroke":{"field":"grp","legend":null}}},
    {"transform":[{"filter":"isValid(datum.m)"}],"mark":{"type":"rule","strokeWidth":1},"encoding":{"x":{"field":"g","type":"nominal","title":null},"y":{"field":"m","type":"quantitative"},"y2":{"field":"hi"},"stroke":{"field":"grp","legend":null}}},
    {"transform":[{"filter":"isValid(datum.m)"}],"mark":{"type":"tick","thickness":1,"size":7},"encoding":{"x":{"field":"g","type":"nominal","title":null},"y":{"field":"hi","type":"quantitative"},"color":{"field":"grp","legend":null}}},
    {"data":{"values":[{}]},"mark":{"type":"rule","stroke":"#333333","strokeWidth":0.8,"strokeDash":[3,2]},"encoding":{"y":{"datum":100}}},
    {"transform":[{"filter":"isValid(datum.pts)"},{"flatten":["pts"],"as":["v"]},{"window":[{"op":"row_number","as":"r"}],"groupby":["g"]}],"mark":{"type":"point","filled":true,"fill":"#ffffff","stroke":"#222222","strokeWidth":0.9,"size":12,"opacity":1},"encoding":{"x":{"field":"g","type":"nominal","title":null},"xOffset":{"field":"r","type":"ordinal","scale":{"paddingOuter":0.5}},"y":{"field":"v","type":"quantitative"}}},
    {"transform":[{"filter":"isValid(datum.s)"}],"mark":{"type":"rule","stroke":"#222222","strokeWidth":0.8},"encoding":{"x":{"field":"sx","type":"nominal","title":null},"x2":{"field":"sx2"},"y":{"field":"sy","type":"quantitative"}}},
    {"transform":[{"filter":"isValid(datum.s)"}],"mark":{"type":"rule","stroke":"#222222","strokeWidth":0.8},"encoding":{"x":{"field":"sx","type":"nominal","title":null},"y":{"field":"sy","type":"quantitative"},"y2":{"field":"sy2"}}},
    {"transform":[{"filter":"isValid(datum.s)"}],"mark":{"type":"rule","stroke":"#222222","strokeWidth":0.8},"encoding":{"x":{"field":"sx2","type":"nominal","title":null},"y":{"field":"sy","type":"quantitative"},"y2":{"field":"sy3"}}},
    {"transform":[{"filter":"isValid(datum.tb)"}],"mark":{"type":"text","fontSize":8,"baseline":"bottom","dy":2,"color":"#222222"},"encoding":{"x":{"field":"tb","type":"nominal","title":null,"bandPosition":1},"y":{"field":"sy","type":"quantitative"},"text":{"field":"s"}}},
    {"transform":[{"filter":"isValid(datum.tc)"}],"mark":{"type":"text","fontSize":8,"baseline":"bottom","dy":2,"color":"#222222"},"encoding":{"x":{"field":"tc","type":"nominal","title":null},"y":{"field":"sy","type":"quantitative"},"text":{"field":"s"}}}
   ]}
 ]},
{"spacing":24,"resolve":{"scale":{"xOffset":"independent"}},
 "hconcat":[
  {"title":{"text":"e","anchor":"start","fontSize":13,"offset":10},"width":84,"height":86,"data":{"name":"d"},"transform":[{"filter":{"field":"p","equal":"GRe"}}],
   "layer":[
    {"transform":[{"filter":"isValid(datum.m)"}],"mark":{"type":"bar","strokeWidth":1.3},"encoding":{"x":{"field":"g","type":"nominal","title":null,"scale":{"domain":["PN24-N","Tr-15 min","Tr-1h","Tr-24h"],"paddingInner":0.3,"paddingOuter":0.2},"axis":{"title":null,"labelAngle":-45}},"y":{"field":"m","type":"quantitative","scale":{"domain":[0,150],"nice":false},"axis":{"title":["GR activity","(% of Naive PN24)"],"titlePadding":1,"labelPadding":1,"values":[0,50,100,150]}},"fill":{"field":"grp","legend":null},"stroke":{"field":"grp","legend":null}}},
    {"transform":[{"filter":"isValid(datum.m)"}],"mark":{"type":"rule","strokeWidth":1},"encoding":{"x":{"field":"g","type":"nominal","title":null},"y":{"field":"m","type":"quantitative"},"y2":{"field":"hi"},"stroke":{"field":"grp","legend":null}}},
    {"transform":[{"filter":"isValid(datum.m)"}],"mark":{"type":"tick","thickness":1,"size":7},"encoding":{"x":{"field":"g","type":"nominal","title":null},"y":{"field":"hi","type":"quantitative"},"color":{"field":"grp","legend":null}}},
    {"data":{"values":[{}]},"mark":{"type":"rule","stroke":"#333333","strokeWidth":0.8,"strokeDash":[3,2]},"encoding":{"y":{"datum":100}}},
    {"transform":[{"filter":"isValid(datum.pts)"},{"flatten":["pts"],"as":["v"]},{"window":[{"op":"row_number","as":"r"}],"groupby":["g"]}],"mark":{"type":"point","filled":true,"fill":"#ffffff","stroke":"#222222","strokeWidth":0.9,"size":12,"opacity":1},"encoding":{"x":{"field":"g","type":"nominal","title":null},"xOffset":{"field":"r","type":"ordinal","scale":{"paddingOuter":0.5}},"y":{"field":"v","type":"quantitative"}}}
   ]},
  {"title":{"text":"f","anchor":"start","fontSize":13,"offset":10},"width":90,"height":86,"data":{"name":"d"},"transform":[{"filter":{"field":"p","equal":"GRf"}}],
   "layer":[
    {"transform":[{"filter":"isValid(datum.m)"}],"mark":{"type":"bar","strokeWidth":1.3},"encoding":{"x":{"field":"g","type":"nominal","title":null,"scale":{"domain":["PN80-N","Tr-15 min","Tr-1h","Tr-24h"],"paddingInner":0.3,"paddingOuter":0.2},"axis":{"title":null,"labelAngle":-45}},"y":{"field":"m","type":"quantitative","scale":{"domain":[0,200],"nice":false},"axis":{"title":["GR activity","(% of Naive PN80)"],"titlePadding":1,"labelPadding":1,"values":[0,50,100,150,200]}},"fill":{"field":"grp","legend":null},"stroke":{"field":"grp","legend":null}}},
    {"transform":[{"filter":"isValid(datum.m)"}],"mark":{"type":"rule","strokeWidth":1},"encoding":{"x":{"field":"g","type":"nominal","title":null},"y":{"field":"m","type":"quantitative"},"y2":{"field":"hi"},"stroke":{"field":"grp","legend":null}}},
    {"transform":[{"filter":"isValid(datum.m)"}],"mark":{"type":"tick","thickness":1,"size":7},"encoding":{"x":{"field":"g","type":"nominal","title":null},"y":{"field":"hi","type":"quantitative"},"color":{"field":"grp","legend":null}}},
    {"data":{"values":[{}]},"mark":{"type":"rule","stroke":"#333333","strokeWidth":0.8,"strokeDash":[3,2]},"encoding":{"y":{"datum":100}}},
    {"transform":[{"filter":"isValid(datum.pts)"},{"flatten":["pts"],"as":["v"]},{"window":[{"op":"row_number","as":"r"}],"groupby":["g"]}],"mark":{"type":"point","filled":true,"fill":"#ffffff","stroke":"#222222","strokeWidth":0.9,"size":12,"opacity":1},"encoding":{"x":{"field":"g","type":"nominal","title":null},"xOffset":{"field":"r","type":"ordinal","scale":{"paddingOuter":0.5}},"y":{"field":"v","type":"quantitative"}}}
   ]},
  {"title":{"text":"g","anchor":"start","fontSize":13,"offset":6},"spacing":2,"resolve":{"scale":{"xOffset":"independent"}},"hconcat":[
   {"spacing":6,"resolve":{"scale":{"xOffset":"independent"}},"hconcat":[
   {"spacing":8,"resolve":{"scale":{"xOffset":"independent"}},"vconcat":[
    {"width":42,"height":18,"view":{"fill":"#d9d9d9","stroke":null},"data":{"name":"d"},"transform":[{"filter":{"field":"p","equal":"bNeuN"}},{"flatten":["ln"]}],
     "mark":{"type":"tick","orient":"horizontal","thickness":3,"size":11,"color":"#222222"},"encoding":{"x":{"field":"ln","type":"ordinal","axis":null},"y":{"field":"prot","type":"nominal","sort":null,"axis":{"title":null,"domain":false,"ticks":false,"labelFontSize":5,"labelPadding":2}},"opacity":{"field":"w","type":"quantitative","legend":null}}},
    {"width":42,"height":60,"data":{"name":"d"},"transform":[{"filter":{"field":"p","equal":"gNe"}}],
     "layer":[
      {"transform":[{"filter":"isValid(datum.m)"}],"mark":{"type":"bar","strokeWidth":1},"encoding":{"x":{"field":"g","type":"nominal","title":null,"scale":{"domain":["Neurons","Astrocytes","Unlabeled cells"],"paddingInner":0.25,"paddingOuter":0.1},"axis":{"title":null,"labelAngle":-45,"labelFontSize":5}},"y":{"field":"m","type":"quantitative","scale":{"domain":[0,150],"nice":false},"axis":{"title":"% of Neurons","titleFontSize":5,"labelFontSize":5,"values":[0,50,100,150]}},"fill":{"field":"grp","legend":null},"stroke":{"field":"grp","legend":null}}},
      {"transform":[{"filter":"isValid(datum.m)"}],"mark":{"type":"rule","strokeWidth":1},"encoding":{"x":{"field":"g","type":"nominal","title":null},"y":{"field":"m","type":"quantitative"},"y2":{"field":"hi"},"stroke":{"field":"grp","legend":null}}},
      {"transform":[{"filter":"isValid(datum.m)"}],"mark":{"type":"tick","thickness":1,"size":5},"encoding":{"x":{"field":"g","type":"nominal","title":null},"y":{"field":"hi","type":"quantitative"},"color":{"field":"grp","legend":null}}},
      {"data":{"values":[{}]},"mark":{"type":"rule","stroke":"#333333","strokeWidth":0.8,"strokeDash":[3,2]},"encoding":{"y":{"datum":100}}},
      {"transform":[{"filter":"isValid(datum.pts)"},{"flatten":["pts"],"as":["v"]},{"window":[{"op":"row_number","as":"r"}],"groupby":["g"]}],"mark":{"type":"point","filled":true,"fill":"#333333","stroke":"#333333","size":7,"opacity":1},"encoding":{"x":{"field":"g","type":"nominal","title":null},"xOffset":{"field":"r","type":"ordinal","scale":{"paddingOuter":0.5}},"y":{"field":"v","type":"quantitative"}}},
      {"transform":[{"filter":"isValid(datum.s)"}],"mark":{"type":"rule","stroke":"#222222","strokeWidth":0.7},"encoding":{"x":{"field":"sx","type":"nominal","title":null},"x2":{"field":"sx2"},"y":{"field":"sy","type":"quantitative"}}},
      {"transform":[{"filter":"isValid(datum.s)"}],"mark":{"type":"rule","stroke":"#222222","strokeWidth":0.7},"encoding":{"x":{"field":"sx","type":"nominal","title":null},"y":{"field":"sy","type":"quantitative"},"y2":{"field":"sy2"}}},
      {"transform":[{"filter":"isValid(datum.s)"}],"mark":{"type":"rule","stroke":"#222222","strokeWidth":0.7},"encoding":{"x":{"field":"sx2","type":"nominal","title":null},"y":{"field":"sy","type":"quantitative"},"y2":{"field":"sy3"}}},
      {"transform":[{"filter":"isValid(datum.tc)"}],"mark":{"type":"text","fontSize":6,"baseline":"bottom","dy":2,"color":"#222222"},"encoding":{"x":{"field":"tc","type":"nominal","title":null},"y":{"field":"sy","type":"quantitative"},"text":{"field":"s"}}}
     ]}
   ]},
   {"spacing":8,"resolve":{"scale":{"xOffset":"independent"}},"vconcat":[
    {"width":41,"height":18,"view":{"fill":"#d9d9d9","stroke":null},"data":{"name":"d"},"transform":[{"filter":{"field":"p","equal":"bGFAP"}},{"flatten":["ln"]}],
     "mark":{"type":"tick","orient":"horizontal","thickness":3,"size":11,"color":"#222222"},"encoding":{"x":{"field":"ln","type":"ordinal","axis":null},"y":{"field":"prot","type":"nominal","sort":null,"axis":{"title":null,"domain":false,"ticks":false,"labelFontSize":5,"labelPadding":2}},"opacity":{"field":"w","type":"quantitative","legend":null}}},
    {"width":41,"height":60,"data":{"name":"d"},"transform":[{"filter":{"field":"p","equal":"gAs"}}],
     "layer":[
      {"transform":[{"filter":"isValid(datum.m)"}],"mark":{"type":"bar","strokeWidth":1},"encoding":{"x":{"field":"g","type":"nominal","title":null,"scale":{"domain":["Neurons","Astrocytes","Unlabeled cells"],"paddingInner":0.25,"paddingOuter":0.1},"axis":{"title":null,"labelAngle":-45,"labelFontSize":5}},"y":{"field":"m","type":"quantitative","scale":{"domain":[0,150],"nice":false},"axis":{"title":"% of Astrocytes","titleFontSize":5,"labelFontSize":5,"values":[0,50,100,150]}},"fill":{"field":"grp","legend":null},"stroke":{"field":"grp","legend":null}}},
      {"transform":[{"filter":"isValid(datum.m)"}],"mark":{"type":"rule","strokeWidth":1},"encoding":{"x":{"field":"g","type":"nominal","title":null},"y":{"field":"m","type":"quantitative"},"y2":{"field":"hi"},"stroke":{"field":"grp","legend":null}}},
      {"transform":[{"filter":"isValid(datum.m)"}],"mark":{"type":"tick","thickness":1,"size":5},"encoding":{"x":{"field":"g","type":"nominal","title":null},"y":{"field":"hi","type":"quantitative"},"color":{"field":"grp","legend":null}}},
      {"data":{"values":[{}]},"mark":{"type":"rule","stroke":"#333333","strokeWidth":0.8,"strokeDash":[3,2]},"encoding":{"y":{"datum":100}}},
      {"transform":[{"filter":"isValid(datum.pts)"},{"flatten":["pts"],"as":["v"]},{"window":[{"op":"row_number","as":"r"}],"groupby":["g"]}],"mark":{"type":"point","filled":true,"fill":"#333333","stroke":"#333333","size":7,"opacity":1},"encoding":{"x":{"field":"g","type":"nominal","title":null},"xOffset":{"field":"r","type":"ordinal","scale":{"paddingOuter":0.5}},"y":{"field":"v","type":"quantitative"}}},
      {"transform":[{"filter":"isValid(datum.s)"}],"mark":{"type":"rule","stroke":"#222222","strokeWidth":0.7},"encoding":{"x":{"field":"sx","type":"nominal","title":null},"x2":{"field":"sx2"},"y":{"field":"sy","type":"quantitative"}}},
      {"transform":[{"filter":"isValid(datum.s)"}],"mark":{"type":"rule","stroke":"#222222","strokeWidth":0.7},"encoding":{"x":{"field":"sx","type":"nominal","title":null},"y":{"field":"sy","type":"quantitative"},"y2":{"field":"sy2"}}},
      {"transform":[{"filter":"isValid(datum.s)"}],"mark":{"type":"rule","stroke":"#222222","strokeWidth":0.7},"encoding":{"x":{"field":"sx2","type":"nominal","title":null},"y":{"field":"sy","type":"quantitative"},"y2":{"field":"sy3"}}},
      {"transform":[{"filter":"isValid(datum.tb)"}],"mark":{"type":"text","fontSize":6,"baseline":"bottom","dy":2,"color":"#222222"},"encoding":{"x":{"field":"tb","type":"nominal","title":null,"bandPosition":1},"y":{"field":"sy","type":"quantitative"},"text":{"field":"s"}}}
     ]}
   ]}
   ]},
   {"spacing":0,"resolve":{"scale":{"xOffset":"independent"}},"vconcat":[
   {"width":122,"height":86,"data":{"name":"d"},"transform":[{"filter":{"field":"p","equal":"gBig"}}],
   "layer":[
    {"transform":[{"filter":"isValid(datum.m)"}],"mark":{"type":"bar","strokeWidth":1.3},"encoding":{"x":{"field":"g","type":"nominal","title":null,"scale":{"domain":["Neurons|N","Neurons|T","s1","Astrocytes|N","Astrocytes|T","s2","Unlabeled cells|N","Unlabeled cells|T"],"paddingInner":0.08,"paddingOuter":0.5},"axis":{"title":null,"labelAngle":-45,"labelFontSize":8,"labelOverlap":false,"labelExpr":"indexof(datum.value,'|N')>0 ? split(datum.value,'|')[0] : ''","tickOffset":7,"tickOpacity":{"condition":{"test":"indexof(datum.value,'|N')>0","value":1},"value":0}}},"y":{"field":"m","type":"quantitative","scale":{"domain":[0,150],"nice":false},"axis":{"title":["GR activity","(nmol/min/mg protein)"],"titleFontSize":8,"labelFontSize":8,"values":[0,50,100,150]}},"fill":{"field":"grp","legend":null},"stroke":{"field":"grp","legend":null}}},
    {"transform":[{"filter":"isValid(datum.m)"}],"mark":{"type":"rule","strokeWidth":1},"encoding":{"x":{"field":"g","type":"nominal","title":null},"y":{"field":"m","type":"quantitative"},"y2":{"field":"hi"},"stroke":{"field":"grp","legend":null}}},
    {"transform":[{"filter":"isValid(datum.m)"}],"mark":{"type":"tick","thickness":1,"size":6},"encoding":{"x":{"field":"g","type":"nominal","title":null},"y":{"field":"hi","type":"quantitative"},"color":{"field":"grp","legend":null}}},
    {"transform":[{"filter":"isValid(datum.pts)"},{"flatten":["pts"],"as":["v"]},{"window":[{"op":"row_number","as":"r"}],"groupby":["g"]}],"mark":{"type":"point","filled":true,"fill":"#ffffff","stroke":"#222222","strokeWidth":0.9,"size":14,"opacity":1},"encoding":{"x":{"field":"g","type":"nominal","title":null},"xOffset":{"field":"r","type":"ordinal","scale":{"paddingOuter":0.5}},"y":{"field":"v","type":"quantitative"}}},
    {"transform":[{"filter":"isValid(datum.s)"}],"mark":{"type":"rule","stroke":"#222222","strokeWidth":0.8},"encoding":{"x":{"field":"sx","type":"nominal","title":null},"x2":{"field":"sx2"},"y":{"field":"sy","type":"quantitative"}}},
    {"transform":[{"filter":"isValid(datum.s)"}],"mark":{"type":"rule","stroke":"#222222","strokeWidth":0.8},"encoding":{"x":{"field":"sx","type":"nominal","title":null},"y":{"field":"sy","type":"quantitative"},"y2":{"field":"sy2"}}},
    {"transform":[{"filter":"isValid(datum.s)"}],"mark":{"type":"rule","stroke":"#222222","strokeWidth":0.8},"encoding":{"x":{"field":"sx2","type":"nominal","title":null},"y":{"field":"sy","type":"quantitative"},"y2":{"field":"sy3"}}},
    {"transform":[{"filter":"isValid(datum.tb)"}],"mark":{"type":"text","fontSize":8,"baseline":"bottom","dy":2,"color":"#222222"},"encoding":{"x":{"field":"tb","type":"nominal","title":null,"bandPosition":1},"y":{"field":"sy","type":"quantitative"},"text":{"field":"s"}}}
   ]},
   {"width":170,"height":10,"data":{"name":"d"},"transform":[{"filter":{"field":"p","equal":"legG"}}],
    "layer":[
     {"mark":{"type":"point","shape":"M-1,-0.7H1V0.7H-1Z","filled":true,"size":169,"strokeWidth":1.2},"encoding":{"x":{"field":"grp","type":"nominal","sort":null,"axis":null,"scale":{"range":[19,155],"paddingInner":0,"paddingOuter":0}},"fill":{"field":"grp","legend":null},"stroke":{"field":"grp","legend":null}}},
     {"mark":{"type":"text","align":"left","dx":13,"fontSize":8,"color":"#444444"},"encoding":{"x":{"field":"grp","type":"nominal","sort":null,"axis":null},"text":{"field":"grp"}}}
    ]}
   ]}
  ]}
 ]}
]}
]
}
